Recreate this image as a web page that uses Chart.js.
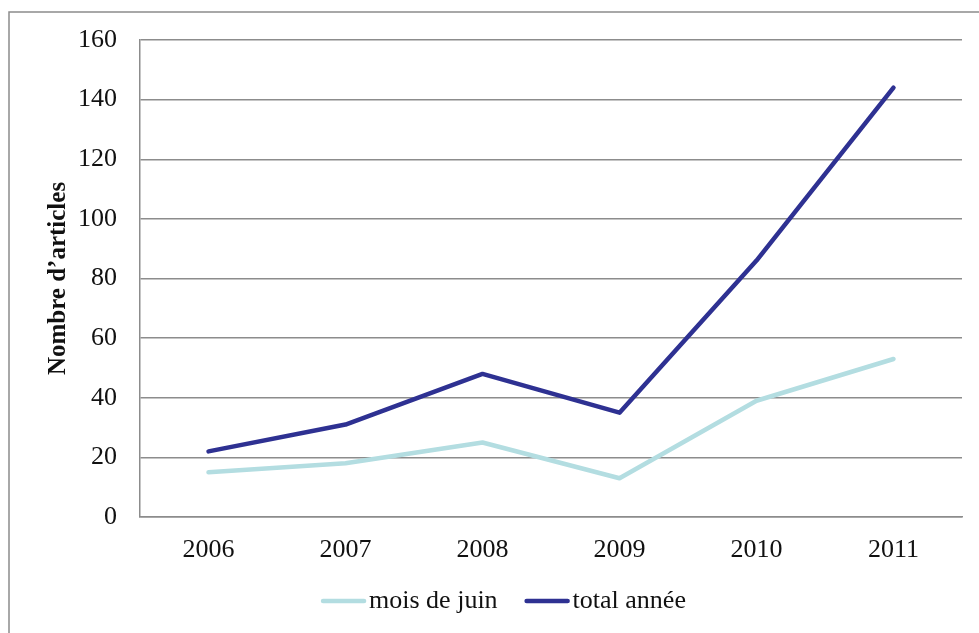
<!DOCTYPE html>
<html>
<head>
<meta charset="utf-8">
<script src="https://cdn.jsdelivr.net/npm/chart.js@4/dist/chart.umd.min.js"></script>
<style>
html,body{margin:0;padding:0;background:#fff;}
#wrap{width:979px;height:633px;position:relative;}
</style>
</head>
<body>
<div id="wrap"><canvas id="c" width="979" height="633"></canvas></div>
<script>
const categories = ['2006','2007','2008','2009','2010','2011'];
const moisDeJuin = [15, 18, 25, 13, 39, 53];
const totalAnnee = [22, 31, 48, 35, 86, 144];
const seriesNames = ['mois de juin', 'total année'];
const seriesColors = ['#b3dde1', '#2e3192'];
const yTitle = 'Nombre d\u2019articles';
const FONT = '"Liberation Serif", "Times New Roman", serif';

const frame = {
  id: 'frame',
  beforeDraw(chart) {
    const ctx = chart.ctx;
    ctx.save();
    ctx.fillStyle = '#fff';
    ctx.fillRect(0, 0, chart.width, chart.height);
    ctx.strokeStyle = '#8c8c8c';
    ctx.lineWidth = 1.5;
    ctx.strokeRect(9, 12, 1000, 700);
    ctx.restore();
  }
};

// legend drawn from the chart's datasets (swatch directly followed by text)
const lineLegend = {
  id: 'lineLegend',
  afterDraw(chart) {
    const ctx = chart.ctx;
    const ds = chart.data.datasets;
    const sw = 45, gapText = 3, gapItem = 27, cy = 601;
    ctx.save();
    ctx.font = '26px ' + FONT;
    const widths = ds.map(d => sw + gapText + ctx.measureText(d.label).width);
    const total = widths.reduce((a, b) => a + b, 0) + gapItem * (ds.length - 1);
    let x = 503.5 - total / 2;
    ds.forEach((d, i) => {
      ctx.strokeStyle = d.borderColor;
      ctx.lineWidth = 4.5;
      ctx.lineCap = 'round';
      ctx.beginPath();
      ctx.moveTo(x + 2, cy);
      ctx.lineTo(x + sw - 2, cy);
      ctx.stroke();
      ctx.fillStyle = '#111';
      ctx.textBaseline = 'middle';
      ctx.textAlign = 'left';
      ctx.fillText(d.label, x + sw + gapText, cy);
      x += widths[i] + gapItem;
    });
    ctx.restore();
  }
};

new Chart(document.getElementById('c'), {
  type: 'line',
  data: {
    labels: categories,
    datasets: [
      { label: seriesNames[0], data: moisDeJuin, borderColor: seriesColors[0], backgroundColor: seriesColors[0], borderWidth: 4.5, pointRadius: 0, tension: 0, borderCapStyle: 'round', borderJoinStyle: 'round' },
      { label: seriesNames[1], data: totalAnnee, borderColor: seriesColors[1], backgroundColor: seriesColors[1], borderWidth: 4.5, pointRadius: 0, tension: 0, borderCapStyle: 'round', borderJoinStyle: 'round' }
    ]
  },
  options: {
    responsive: false,
    animation: false,
    devicePixelRatio: 1,
    layout: { padding: { left: 42, right: 17, top: 40, bottom: 0 } },
    plugins: {
      legend: { display: false },
      tooltip: { enabled: false }
    },
    scales: {
      x: {
        offset: true,
        afterFit(scale) { scale.height = 116; },
        grid: { display: false, drawTicks: false },
        border: { display: true, color: '#8c8c8c', width: 1.5 },
        ticks: { color: '#111', padding: 18, font: { family: FONT, size: 26 } }
      },
      y: {
        min: 0, max: 160,
        afterFit(scale) { scale.width = 98; },
        grid: { color: '#8c8c8c', lineWidth: 1.5, drawTicks: false },
        border: { display: true, color: '#8c8c8c', width: 1.5 },
        ticks: { stepSize: 20, color: '#111', padding: 23, font: { family: FONT, size: 26 } },
        title: { display: true, text: yTitle, color: '#111', padding: { top: 2, bottom: 4 }, font: { family: FONT, size: 25, weight: 'bold' } }
      }
    }
  },
  plugins: [frame, lineLegend]
});
</script>
</body>
</html>
